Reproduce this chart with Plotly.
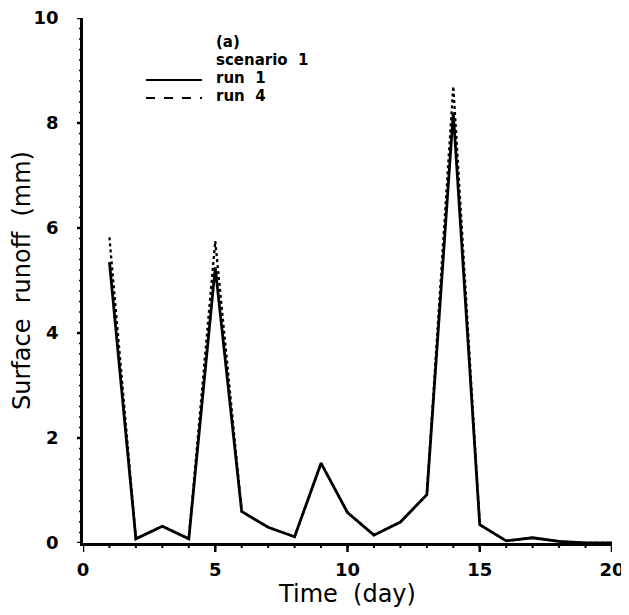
import plotly.graph_objects as go

days = list(range(1, 21))
run1 = [5.35, 0.08, 0.32, 0.08, 5.25, 0.6, 0.3, 0.12, 1.52, 0.58, 0.15, 0.4, 0.92, 8.2, 0.35, 0.04, 0.1, 0.03, 0.0, 0.0]
run4 = [5.82, 0.08, 0.32, 0.08, 5.75, 0.6, 0.3, 0.12, 1.52, 0.58, 0.15, 0.4, 0.92, 8.7, 0.35, 0.04, 0.1, 0.03, 0.0, 0.0]

x_ticks = [0, 5, 10, 15, 20]
y_ticks = [0, 2, 4, 6, 8, 10]
x_minor = list(range(0, 21))
y_minor = [i / 5 for i in range(0, 51)]

FONT = "DejaVu Sans"

# the page body adds an 8px offset; positions below are in screenshot pixels
OFF = 8
W, H = 629 - OFF, 615 - OFF
X0, X1, Y0, Y1 = 83, 612, 18, 543
L, R, T, B = X0 - OFF, W - (X1 - OFF), Y0 - OFF, H - (Y1 - OFF)
pw, ph = X1 - X0, Y1 - Y0
XMAX, YMAX = 20, 10

fig = go.Figure()
fig.add_trace(go.Scatter(x=days, y=run4, mode="lines", name="run 4",
                         line=dict(color="black", width=2.3, dash="dot")))
fig.add_trace(go.Scatter(x=days, y=run1, mode="lines", name="run 1",
                         line=dict(color="black", width=2.8)))

# tick marks as shapes placed on the axis scales (x/y data refs), extending outward
def add_xticks(vals, length_px, width):
    for v in vals:
        fig.add_shape(type="line", xref="x", yref="paper", x0=v, x1=v,
                      y0=0, y1=-length_px / ph, layer="above",
                      line=dict(color="black", width=width))

def add_yticks(vals, length_px, width):
    for v in vals:
        fig.add_shape(type="line", xref="paper", yref="y", x0=0, x1=-length_px / pw,
                      y0=v, y1=v, layer="above",
                      line=dict(color="black", width=width))

add_xticks(x_minor, 5, 2)
add_xticks(x_ticks, 9, 2.5)
add_yticks(y_minor, 4, 1.5)
add_yticks(y_ticks, 6, 2.5)

def px(x):
    return (x - X0) / pw

def py(y):
    return (Y1 - y) / ph

legend_text = [("(a)", 42), ("scenario  1", 60), ("run  1", 78), ("run  4", 96)]
for t, yy in legend_text:
    fig.add_annotation(x=px(214), y=py(yy), xref="paper", yref="paper", text=t,
                       showarrow=False, xanchor="left", yanchor="middle",
                       font=dict(family=FONT, size=15, color="black", weight="bold"))

fig.add_shape(type="line", xref="paper", yref="paper", x0=px(146), x1=px(202),
              y0=py(80), y1=py(80), line=dict(color="black", width=2))
fig.add_shape(type="line", xref="paper", yref="paper", x0=px(146), x1=px(202),
              y0=py(98), y1=py(98), line=dict(color="black", width=2, dash="dash"))

fig.update_layout(
    width=W, height=H,
    margin=dict(l=L, r=R, t=T, b=B, autoexpand=False),
    paper_bgcolor="white", plot_bgcolor="white",
    showlegend=False,
    font=dict(family=FONT, color="black"),
    xaxis=dict(range=[0, XMAX], tickmode="array", tickvals=x_ticks,
               ticks="outside", ticklen=9, tickwidth=2.5, tickcolor="rgba(0,0,0,0)", automargin=False,
               ticklabeloverflow="allow",
               showline=True, linecolor="black", linewidth=2.5, showgrid=False, zeroline=False,
               tickfont=dict(family=FONT, size=18, color="black", weight="bold"),
               title=dict(text="Time  (day)", font=dict(family=FONT, size=24, color="black"), standoff=2)),
    yaxis=dict(range=[0, YMAX], tickmode="array", tickvals=y_ticks,
               ticks="outside", ticklen=6, tickwidth=2.5, tickcolor="rgba(0,0,0,0)", automargin=False,
               ticklabelstandoff=12, ticklabeloverflow="allow",
               showline=True, linecolor="black", linewidth=2.5, showgrid=False, zeroline=False,
               tickfont=dict(family=FONT, size=18, color="black", weight="bold"),
               title=dict(text="Surface  runoff  (mm)", font=dict(family=FONT, size=24, color="black"), standoff=4)),
)

fig.write_html("out.html")
